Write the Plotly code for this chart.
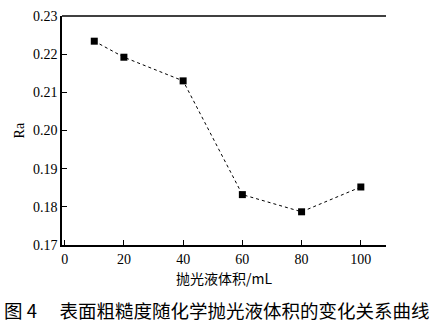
import plotly.graph_objects as go

volume_ml = [10, 20, 40, 60, 80, 100]
ra_values = [0.2234, 0.2192, 0.2130, 0.1832, 0.1787, 0.1852]
x_ticks = [0, 20, 40, 60, 80, 100]
y_ticks = [0.17, 0.18, 0.19, 0.20, 0.21, 0.22, 0.23]
y_tick_text = ["0.17", "0.18", "0.19", "0.20", "0.21", "0.22", "0.23"]

serif = "Liberation Serif"
cjk = "Noto Sans CJK SC"

fig = go.Figure()
fig.add_trace(go.Scatter(
    x=volume_ml, y=ra_values, mode="lines+markers",
    line=dict(color="black", width=1, dash="dot"),
    marker=dict(symbol="square", size=7, color="black"),
    showlegend=False,
))

fig.update_layout(
    width=437, height=328,
    margin=dict(l=62, r=51, t=9, b=83),
    paper_bgcolor="white", plot_bgcolor="white",
    xaxis=dict(range=[-0.9, 108.5], tickvals=x_ticks, ticks="inside", ticklen=5,
               tickcolor="black", showline=True, linecolor="black", linewidth=1.5,
               mirror=False, showgrid=False, zeroline=False,
               tickfont=dict(family=serif, size=14, color="black")),
    yaxis=dict(range=[0.17, 0.23], tickvals=y_ticks, ticktext=y_tick_text,
               ticks="inside", ticklen=5, tickcolor="black", showline=True,
               linecolor="black", linewidth=1.5, showgrid=False, zeroline=False,
               tickfont=dict(family=serif, size=14, color="black")),
    shapes=[dict(type="line", xref="paper", yref="paper", x0=0, x1=1, y0=1, y1=1,
                 line=dict(color="black", width=1.5))],
    annotations=[
        dict(text="Ra", xref="paper", yref="paper", x=-0.13, y=0.5, textangle=-90,
             showarrow=False, font=dict(family=serif, size=14, color="black"),
             xanchor="center", yanchor="middle"),
        dict(text="抛光液体积/mL", xref="paper", yref="paper", x=0.50, y=-0.142,
             showarrow=False, font=dict(family=cjk, size=14, color="black"),
             xanchor="center", yanchor="middle"),
        dict(text="图 4　 表面粗糙度随化学抛光液体积的变化关系曲线", xref="paper", yref="paper",
             x=-0.185, y=-0.285, showarrow=False,
             font=dict(family=cjk, size=18.5, color="black"),
             xanchor="left", yanchor="middle"),
    ],
)

fig.write_html("out.html")
